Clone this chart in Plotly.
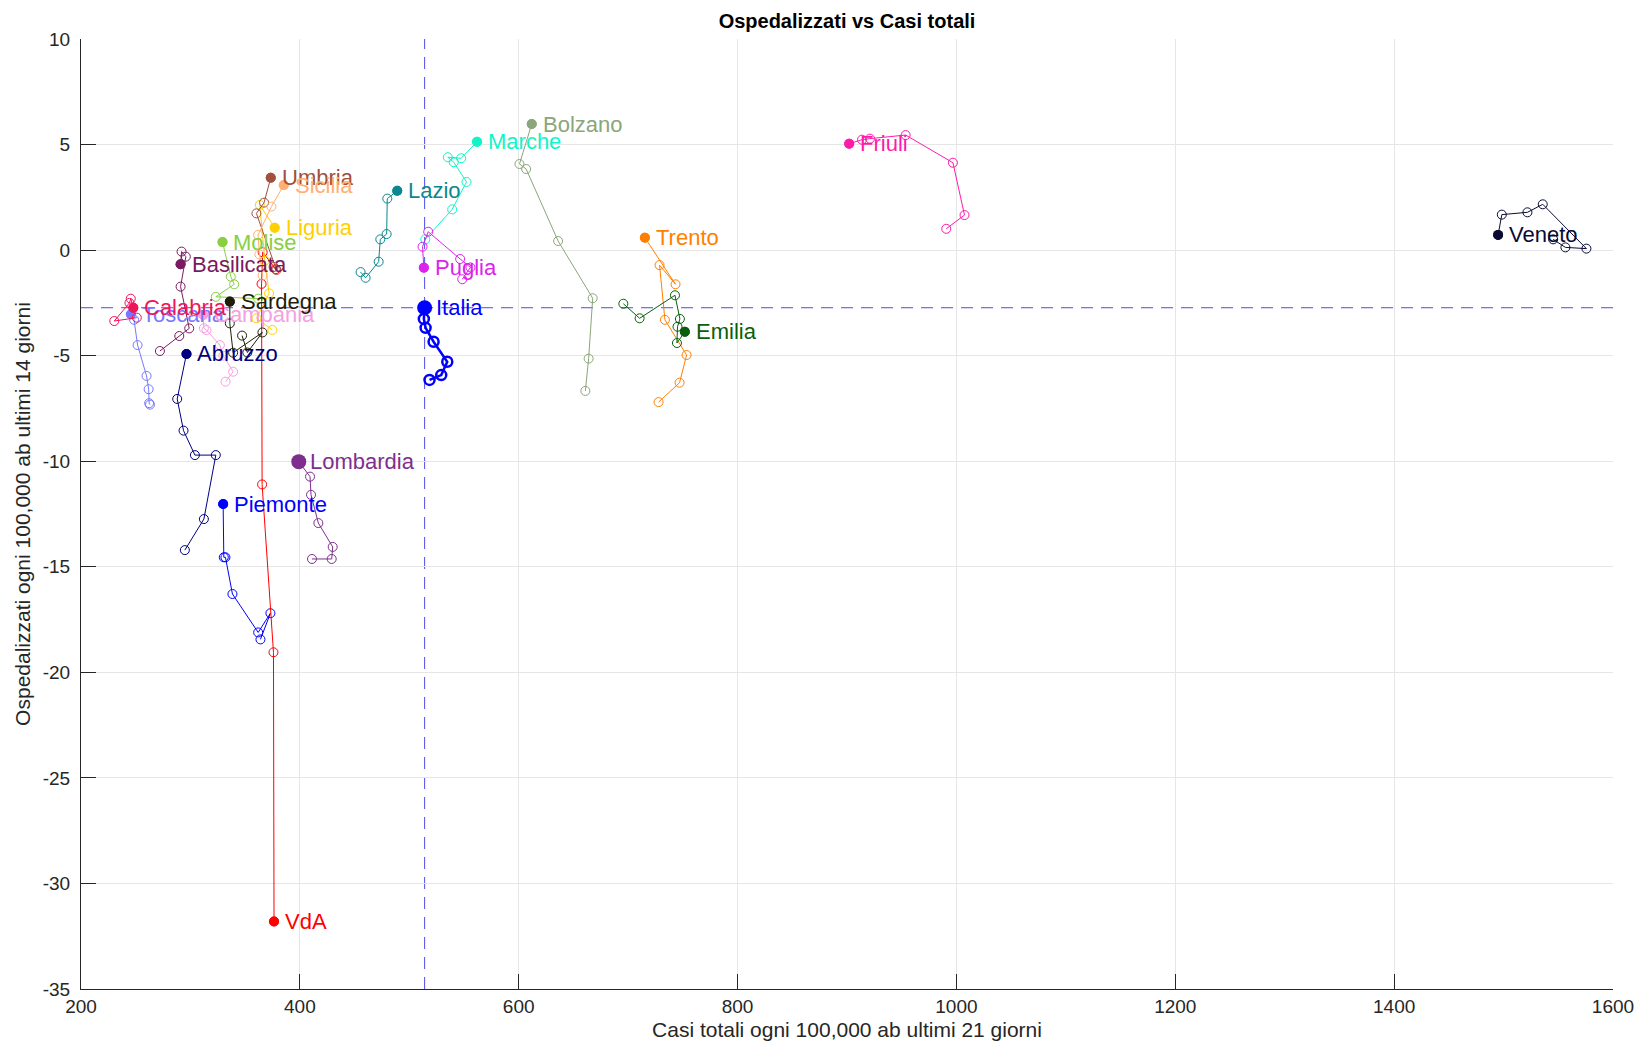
import plotly.graph_objects as go

# Casi totali ogni 100,000 ab (ultimi 21 giorni) e ospedalizzati ogni 100,000 ab (ultimi 14 giorni)
# una traiettoria per regione, dal punto più vecchio al più recente (ultimo = punto pieno)
regioni = ["Piemonte", "VdA", "Lombardia", "Bolzano", "Trento", "Veneto", "Friuli",
           "Liguria", "Emilia", "Toscana", "Umbria", "Marche", "Lazio", "Abruzzo",
           "Molise", "Campania", "Puglia", "Basilicata", "Calabria", "Sicilia",
           "Sardegna", "Italia"]

casi = [
    [364, 373.1, 361.9, 338.4, 332, 330.5, 329.9],          # Piemonte
    [378, 366, 365, 365.5, 375.9, 376.4],                   # VdA
    [411.1, 429.1, 430, 416.9, 410.2, 409.3, 399],          # Lombardia
    [660.9, 663.9, 667.6, 636, 606.8, 600.7, 611.9],        # Bolzano
    [727.8, 747, 753.4, 733.6, 728.7, 743.3, 715.3],        # Trento
    [1545.3, 1556.5, 1575.7, 1535.8, 1521.8, 1498.4, 1495], # Veneto
    [990.7, 1007.4, 996.8, 953.6, 921, 913.7, 902],         # Friuli
    [374.9, 360.3, 371.9, 368, 363.4, 377],                 # Liguria
    [695.6, 710.5, 742.8, 747.3, 745.1, 744.6, 751.8],      # Emilia
    [263, 262.3, 261.8, 259.9, 251.7, 248.5, 245.6],        # Toscana
    [376, 378.6, 360.3, 367.3, 373.4],                      # Umbria
    [514.6, 539.2, 552.3, 540.7, 535.2, 547.4, 561.9],      # Marche
    [455.5, 460.1, 472, 473.5, 479.3, 479.9, 489],          # Lazio
    [294.9, 312.3, 323.2, 304.1, 293.7, 287.9, 296.4],      # Abruzzo
    [362, 323.2, 340, 336.9, 329.3],                        # Molise
    [332.1, 339, 330, 326.9, 314.7, 312.3, 311.7],          # Campania
    [548.4, 555.9, 546.5, 517.3, 512.1, 513.3],             # Puglia
    [272.1, 289.8, 298.9, 291, 295.8, 291.9, 291],          # Basilicata
    [251, 230.4, 244.3, 245.5, 247.8],                      # Calabria
    [366, 363, 361.8, 374, 385.3],                          # Sicilia
    [347.2, 352, 365.8, 339, 336, 336],                     # Sardegna
    [518.5, 529.2, 534.7, 522.2, 514.9, 513.3, 514],        # Italia
]

osped = [
    [-18.44, -17.2, -18.11, -16.29, -14.55, -14.55, -12.03],
    [-0.9, -0.1, -1.6, -11.1, -19.05, -31.8],
    [-14.63, -14.63, -14.06, -12.93, -11.59, -10.73, -10.02],
    [-6.67, -5.14, -2.28, 0.43, 3.84, 4.08, 5.97],
    [-7.2, -6.28, -4.97, -3.30, -0.71, -1.62, 0.59],
    [0.51, 0.13, 0.07, 2.17, 1.79, 1.68, 0.72],
    [1.01, 1.66, 4.14, 5.45, 5.28, 5.23, 5.04],
    [-3.78, -3.23, -2.05, -0.5, 2.14, 1.06],
    [-2.54, -3.23, -2.14, -3.26, -3.63, -4.40, -3.87],
    [-7.32, -7.25, -6.59, -5.96, -4.5, -3.3, -3.04],
    [-0.8, -0.94, 1.74, 2.25, 3.43],
    [0.51, 1.93, 3.23, 4.16, 4.40, 4.35, 5.13],
    [-1.04, -1.31, -0.55, 0.51, 0.76, 2.44, 2.81],
    [-14.21, -12.74, -9.71, -9.71, -8.55, -7.05, -4.92],
    [-2.3, -2.21, -1.62, -1.26, 0.38],
    [-6.23, -5.76, -5.0, -4.5, -3.79, -3.7, -3.07],
    [-1.38, -0.82, -0.42, 0.87, 0.16, -0.83],
    [-4.78, -4.07, -3.71, -1.73, -0.31, -0.07, -0.67],
    [-3.2, -3.36, -2.5, -2.3, -2.73],
    [-1.2, -0.2, 0.72, 2.06, 3.08],
    [-4.05, -4.85, -3.9, -4.86, -3.47, -2.44],
    [-6.15, -5.92, -5.29, -4.34, -3.68, -3.26, -2.73],
]

x_ticks = [200, 400, 600, 800, 1000, 1200, 1400, 1600]
y_ticks = [10, 5, 0, -5, -10, -15, -20, -25, -30, -35]

colori = {
    "Piemonte": "#0000ff", "VdA": "#ff0000", "Lombardia": "#7e2f8e",
    "Bolzano": "#8aa67a", "Trento": "#ff8000", "Veneto": "#0a0a35",
    "Friuli": "#ff1aaa", "Liguria": "#ffd000", "Emilia": "#0a5e0a",
    "Toscana": "#7878ff", "Umbria": "#a0503c", "Marche": "#10f5c8",
    "Lazio": "#0a8790", "Abruzzo": "#000080", "Molise": "#88d040",
    "Campania": "#f5a0e0", "Puglia": "#dd22ee", "Basilicata": "#7a1a60",
    "Calabria": "#f0145a", "Sicilia": "#ffb070", "Sardegna": "#1e1e0a",
    "Italia": "#0000ff",
}
grandi = {"Italia", "Lombardia"}

FONT = "Arial, Liberation Sans, sans-serif"
INK = "#262626"

fig = go.Figure()
annotations = []

for nome, xs, ys in zip(regioni, casi, osped):
    col = colori[nome]
    lw = 2.5 if nome == "Italia" else 1
    fig.add_trace(go.Scatter(
        x=xs, y=ys,
        mode="lines+markers",
        line=dict(color=col, width=lw),
        marker=dict(symbol="circle-open", size=10 if nome == "Italia" else 9,
                    color=col, line=dict(width=lw)),
        showlegend=False, hoverinfo="skip",
    ))
    fig.add_trace(go.Scatter(
        x=[xs[-1]], y=[ys[-1]], mode="markers",
        marker=dict(symbol="circle", size=15 if nome in grandi else 10, color=col),
        showlegend=False, name=nome,
    ))
    annotations.append(dict(
        x=xs[-1], y=ys[-1], text=nome, showarrow=False,
        xanchor="left", yanchor="middle", xshift=9,
        font=dict(family=FONT, size=22, color=col),
    ))

# linee di riferimento sul dato nazionale
it_x, it_y = casi[-1][-1], osped[-1][-1]
ref = dict(color="#4d4de6", width=1, dash="12px,8px")
shapes = [
    dict(type="line", xref="x", yref="paper", x0=it_x, x1=it_x, y0=0, y1=1, line=ref, layer="below"),
    dict(type="line", xref="paper", yref="y", x0=0, x1=1, y0=it_y, y1=it_y, line=ref, layer="below"),
]

axis_common = dict(
    showline=True, linecolor=INK, linewidth=1, mirror=False,
    ticks="inside", ticklen=15, tickcolor=INK, tickwidth=1,
    showgrid=True, gridcolor="#e6e6e6", gridwidth=1, zeroline=False,
    tickfont=dict(family=FONT, size=19, color=INK),
)

fig.update_layout(
    width=1646, height=1051,
    paper_bgcolor="white", plot_bgcolor="white",
    margin=dict(l=81, r=31, t=39, b=62),
    title=dict(text="<b>Ospedalizzati vs Casi totali</b>", x=0.5, xref="paper",
               y=1 - 21 / 1051, yanchor="middle",
               font=dict(family=FONT, size=20, color="black")),
    xaxis=dict(range=[200, 1600], tickvals=x_ticks, ticktext=[str(v) for v in x_ticks],
               title=dict(text="Casi totali ogni 100,000 ab ultimi 21 giorni",
                          font=dict(family=FONT, size=21, color=INK), standoff=6),
               **axis_common),
    yaxis=dict(range=[-35, 10], tickvals=y_ticks, ticktext=[str(v) for v in y_ticks],
               ticklabelstandoff=6,
               title=dict(text="Ospedalizzati ogni 100,000 ab ultimi 14 giorni",
                          font=dict(family=FONT, size=21, color=INK), standoff=6),
               **axis_common),
    shapes=shapes,
    annotations=annotations,
)

fig.write_html("out.html", config={"displayModeBar": False},
               post_script="document.body.style.margin='0';")
